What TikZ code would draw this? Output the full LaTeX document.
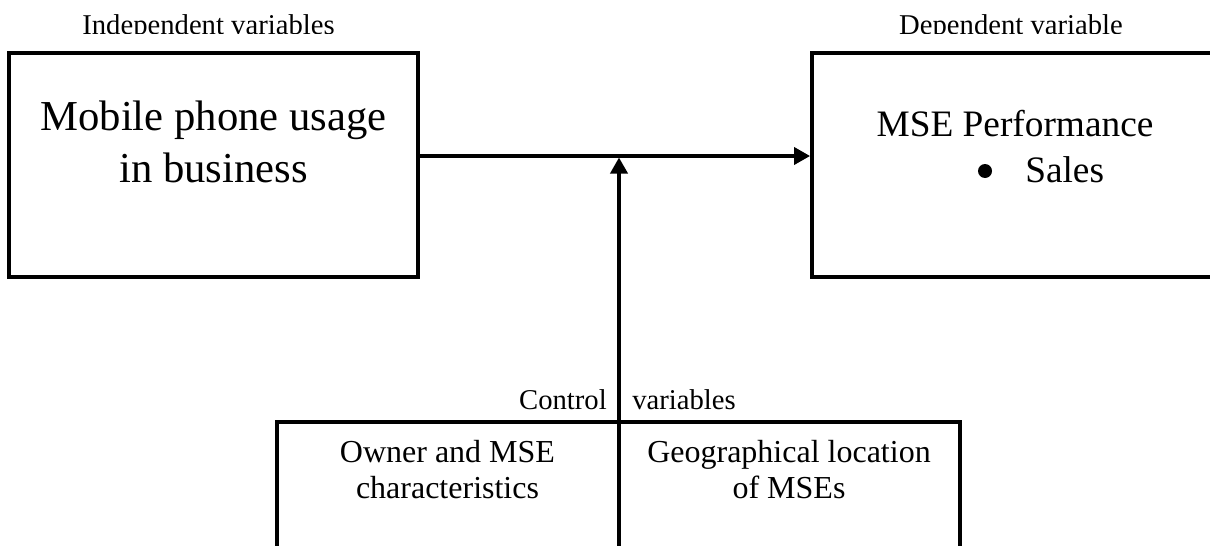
\documentclass[tikz,border=0pt]{standalone}
\usepackage{fontspec}
\setmainfont{Liberation Serif}
\usetikzlibrary{arrows.meta}

\begin{document}
\begin{tikzpicture}[x=0.75pt,y=-0.75pt,
  box/.style={draw, rectangle, line width=3pt, inner sep=0pt},
  conn/.style={line width=2.3pt, -{Triangle[length=12pt,width=13pt]}},
  txt/.style={inner sep=0pt, anchor=base},
  bigtxt/.style={txt, font=\fontsize{32}{38}\selectfont},
  midtxt/.style={txt, font=\fontsize{28}{34}\selectfont},
  celltxt/.style={txt, font=\fontsize{24}{29}\selectfont},
  smalltxt/.style={txt, font=\fontsize{21.5}{26}\selectfont},
  dot/.style={circle, fill, inner sep=0pt, minimum size=10.5pt}]

\useasboundingbox (0,0) rectangle (1210,546);
\clip (0,0) rectangle (1210,546);
\fill[white] (0,0) rectangle (1210,546);

% group headings (cut off at their lower edge)
\begin{scope}
  \clip (0,0) rectangle (1210,33.5);
  \node[smalltxt] (indlab) at (208.5,34) {Independent variables};
  \node[smalltxt] (deplab) at (1011,34) {Dependent variable};
\end{scope}

% main boxes
\node[box, minimum width=306.75pt, minimum height=168pt] (indep) at (213.5,165) {};
\node[box, minimum width=306.75pt, minimum height=168pt] (dep) at (1016.5,165) {};
\node[box, minimum width=512.25pt, minimum height=133.5pt] (ctrl) at (618.5,511) {};

% box texts
\node[bigtxt] (mob1) at (213.5,130) {Mobile phone usage};
\node[bigtxt] (mob2) at (213.5,182) {in business};
\node[midtxt] (perf) at (1015,136) {MSE Performance};
\node[dot] (bul) at (985,171) {};
\node[midtxt, anchor=base west] (sales) at (1025,182) {Sales};

\node[smalltxt, anchor=base east] (ctl1) at (607,409) {Control};
\node[smalltxt, anchor=base west] (ctl2) at (632,409) {variables};

\node[celltxt] (own1) at (447.5,462) {Owner and MSE};
\node[celltxt] (own2) at (447.5,498) {characteristics};
\node[celltxt] (geo1) at (789,462) {Geographical location};
\node[celltxt] (geo2) at (789,498) {of MSEs};

% connectors
\coordinate (hl) at (0,156);
\coordinate (vbot) at (619,570);
\draw[conn] (indep.east |- hl) -- (dep.west |- hl);
\draw[conn, shorten >=1.2pt] (vbot) -- (vbot |- hl);

\end{tikzpicture}
\end{document}
